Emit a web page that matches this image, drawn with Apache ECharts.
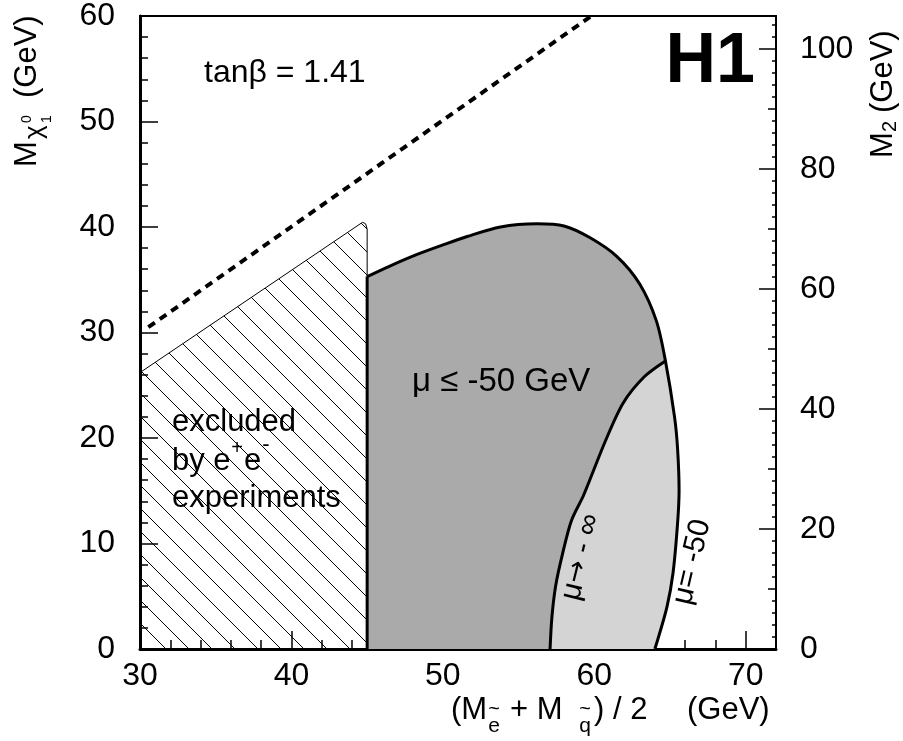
<!DOCTYPE html>
<html><head><meta charset="utf-8">
<script src="https://cdn.jsdelivr.net/npm/echarts@6/dist/echarts.min.js"></script>
<style>html,body{margin:0;padding:0;background:#fff}#c{width:903px;height:741px}</style>
</head><body><div id="c"></div>
<script>
// ---- data ----
const xTickLabels = [30, 40, 50, 60, 70];
const yLeftTickLabels = [0, 10, 20, 30, 40, 50, 60];
const yRightTickLabels = [0, 20, 40, 60, 80, 100];

const dashedX = [30.55, 59.8];
const dashedY = [30.5, 60];

const hatchX = [30, 30, 44.7, 44.9, 45, 45];
const hatchY = [0, 26.2, 40.45, 40.3, 39.8, 0];

const edgeX = [45, 45];
const edgeY = [0, 35.3];

const outerX = [45.0, 46.5, 48.3, 50.0, 51.6, 53.8, 56.2, 58.0, 59.7, 61.5, 63.0, 64.1, 64.7, 65.3, 65.5, 65.6, 65.5, 65.2, 64.8, 64.0];
const outerY = [35.3, 36.3, 37.4, 38.3, 39.1, 40.0, 40.3, 40.1, 39.0, 37.2, 34.6, 31.1, 27.3, 22.0, 19.0, 15.0, 11.9, 7.2, 4.0, 0];
const junctionIndex = 12;

const innerX = [57.08, 57.2, 57.45, 57.9, 58.5, 59.3, 60.7, 61.9, 63.3, 64.7];
const innerY = [0, 3.0, 6.0, 9.0, 12.2, 14.6, 19.6, 23.3, 25.8, 27.3];

// ---- helpers ----
const zip = (xs, ys) => xs.map((x, i) => [x, ys[i]]);
const darkPts = [[45, 0]].concat(zip(outerX, outerY));
const lightPts = zip(innerX, innerY).concat(zip(outerX.slice(junctionIndex + 1), outerY.slice(junctionIndex + 1)));
const hatchPts = zip(hatchX, hatchY);

function hatchPattern() {
  const s = 23, c = document.createElement('canvas');
  c.width = s; c.height = s;
  const ctx = c.getContext('2d');
  ctx.strokeStyle = '#000'; ctx.lineWidth = 1;
  ctx.beginPath();
  for (const k of [-1, 0, 1]) { ctx.moveTo(k * s - 2, -2); ctx.lineTo(k * s + s + 2, s + 2); }
  ctx.stroke();
  return c;
}
const pattern = hatchPattern();

function polySeries(pts, fill, stroke, lw, z) {
  return {
    type: 'custom', xAxisIndex: 0, yAxisIndex: 0, z: z, silent: true,
    data: [0],
    renderItem: function (params, api) {
      return {
        type: 'polygon',
        shape: { points: pts.map(p => api.coord(p)) },
        style: { fill: fill, stroke: stroke, lineWidth: lw }
      };
    }
  };
}
function lineSeries(pts, opts, z) {
  return Object.assign({
    type: 'line', xAxisIndex: 0, yAxisIndex: 0, z: z, silent: true,
    data: pts, symbol: 'none', clip: false,
    lineStyle: { color: '#000', width: 3 }
  }, opts);
}

const FONT = 'Liberation Sans, Arial, Helvetica, sans-serif';
// y is the baseline position; converted for bottom alignment
const txt = (text, x, y, size, extra) => ({
  type: 'text', x: x, y: y + 0.18 * size, silent: true, z: 100,
  style: Object.assign({ text: text, font: size + 'px ' + FONT, fill: '#000', textAlign: 'left', textVerticalAlign: 'bottom' }, extra || {})
});
const ctxt = (text, x, y, size, extra) => ({
  type: 'text', x: x, y: y, silent: true, z: 100,
  style: Object.assign({ text: text, font: size + 'px ' + FONT, fill: '#000', textAlign: 'center', textVerticalAlign: 'middle' }, extra || {})
});

const chart = echarts.init(document.getElementById('c'), null, { renderer: 'canvas' });

const axisCommon = { splitLine: { show: false }, axisLine: { show: false, onZero: false }, axisLabel: { show: false } };

const arrowLabel = ctxt('{m|\u03BC}{a|\u2192}{m| - \u221E}', 581, 557, 30, {
  rich: {
    m: { fontSize: 30, fontFamily: FONT, fill: '#000' },
    a: { fontSize: 27, fontFamily: 'DejaVu Sans', fill: '#000' }
  }
});
arrowLabel.rotation = 1.33;
const muLabel = ctxt('\u03BC= -50', 692, 562, 30);
muLabel.rotation = 1.34;

const option = {
  backgroundColor: '#fff',
  animation: false,
  grid: { left: 140, right: 127, top: 14, bottom: 92, show: true, borderColor: '#000', borderWidth: 2, backgroundColor: 'transparent' },
  xAxis: [
    { type: 'value', position: 'bottom', min: 30, max: 72, interval: 10,
      splitLine: { show: false },
      axisLine: { show: true, onZero: false, lineStyle: { color: '#000', width: 3 } },
      axisTick: { inside: true, length: 18, lineStyle: { color: '#000', width: 1.5 } },
      axisLabel: { margin: 11, color: '#000', fontSize: 32, fontFamily: FONT,
        formatter: v => (xTickLabels.indexOf(v) >= 0 ? String(v) : '') } },
    Object.assign({ type: 'value', position: 'bottom', min: 30, max: 72, interval: 2,
      axisTick: { inside: true, length: 9, lineStyle: { color: '#000', width: 1.5 } } }, axisCommon)
  ],
  yAxis: [
    { type: 'value', position: 'left', min: 0, max: 60, interval: 10,
      splitLine: { show: false },
      axisLine: { show: true, onZero: false, lineStyle: { color: '#000', width: 3 } },
      axisTick: { inside: true, length: 18, lineStyle: { color: '#000', width: 1.5 } },
      axisLabel: { margin: 25, color: '#000', fontSize: 32, fontFamily: FONT,
        formatter: v => (yLeftTickLabels.indexOf(v) >= 0 ? String(v) : '') } },
    Object.assign({ type: 'value', position: 'left', min: 0, max: 60, interval: 2,
      axisTick: { inside: true, length: 8, lineStyle: { color: '#000', width: 1.5 } } }, axisCommon),
    { type: 'value', position: 'right', min: 0, max: 105.5, interval: 20,
      splitLine: { show: false },
      axisLine: { show: false, onZero: false },
      axisTick: { inside: true, length: 17, lineStyle: { color: '#000', width: 1.5 } },
      axisLabel: { margin: 24, color: '#000', fontSize: 32, fontFamily: FONT,
        formatter: v => (yRightTickLabels.indexOf(v) >= 0 ? String(v) : '') } },
    Object.assign({ type: 'value', position: 'right', min: 0, max: 105.5, interval: 10,
      axisTick: { inside: true, length: 8, lineStyle: { color: '#000', width: 1.5 } } }, axisCommon),
    Object.assign({ type: 'value', position: 'right', min: 0, max: 105.5, interval: 2,
      axisTick: { inside: true, length: 4, lineStyle: { color: '#000', width: 1.5 } } }, axisCommon)
  ],
  series: [
    polySeries(hatchPts, { image: pattern, repeat: 'repeat' }, '#000', 1, 1),
    polySeries(darkPts, '#aaaaaa', null, 0, 2),
    polySeries(lightPts, '#d4d4d4', null, 0, 3),
    lineSeries(zip(edgeX, edgeY), {}, 4),
    lineSeries(zip(outerX, outerY), { smooth: 0.3 }, 4),
    lineSeries(zip(innerX, innerY), { smooth: 0.3 }, 4),
    lineSeries(zip(dashedX, dashedY), { lineStyle: { color: '#000', width: 4, type: [8, 6] } }, 5)
  ],
  graphic: [
    txt('H1', 755, 85, 70, { font: 'bold 70px ' + FONT, textAlign: 'right' }),
    txt('tan\u03B2 = 1.41', 204, 83, 32),
    txt('\u03BC \u2264 -50 GeV', 412, 392, 33),
    txt('excluded', 172, 432, 31),
    txt('by e', 172, 471, 31),
    ctxt('+', 237, 448, 20),
    txt('e', 244, 471, 31),
    ctxt('-', 266, 445, 22),
    txt('experiments', 172, 508, 31),
    arrowLabel,
    muLabel,
    // bottom axis title
    txt('(M', 451, 720, 31),
    ctxt('~', 494, 709, 20),
    txt('e', 494, 733, 21, { textAlign: 'center' }),
    txt('+ M', 510, 720, 31),
    ctxt('~', 585, 709, 20),
    txt('q', 585, 733, 21, { textAlign: 'center' }),
    txt(') / 2', 594, 720, 31),
    txt('(GeV)', 687, 720, 31),
    // left axis title (rotated)
    { type: 'group', x: 37, y: 167, rotation: Math.PI / 2, silent: true, z: 100, children: [
      txt('M', 0, 0, 31),
      txt('\u03C7', 28, 6, 26),
      txt('0', 44, -5, 14),
      txt('1', 44, 15, 14),
      txt('(GeV)', 69, 0, 31)
    ] },
    // right axis title (rotated)
    { type: 'group', x: 893, y: 158, rotation: Math.PI / 2, silent: true, z: 100, children: [
      txt('M', 0, 0, 31),
      txt('2', 26, 4, 20),
      txt('(GeV)', 45, 0, 31)
    ] }
  ]
};
chart.setOption(option);
</script>
</body></html>
